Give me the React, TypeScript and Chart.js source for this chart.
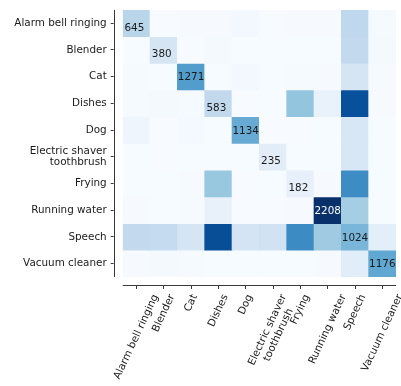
import React, { useEffect, useRef } from "react";
import { Chart, registerables } from "chart.js";

Chart.register(...registerables);

// Sound classes (true label rows, predicted label columns)
const rowLabels: (string | string[])[] = [
  "Alarm bell ringing",
  "Blender",
  "Cat",
  "Dishes",
  "Dog",
  ["Electric shaver", "toothbrush"],
  "Frying",
  "Running water",
  "Speech",
  "Vacuum cleaner",
];
const colLabels: (string | string[])[] = rowLabels;

// Confusion counts, one array per true class
const rowAlarm = [645, 2, 12, 12, 55, 5, 12, 16, 594, 18];
const rowBlender = [8, 380, 2, 35, 6, 2, 6, 8, 575, 30];
const rowCat = [20, 6, 1271, 8, 50, 6, 20, 12, 380, 10];
const rowDishes = [18, 38, 18, 583, 2, 6, 880, 150, 1940, 12];
const rowDog = [95, 2, 40, 8, 1134, 2, 4, 6, 350, 8];
const rowShaver = [6, 4, 8, 6, 8, 235, 6, 8, 340, 8];
const rowFrying = [8, 6, 12, 860, 2, 8, 182, 12, 1420, 8];
const rowWater = [10, 6, 10, 165, 2, 4, 12, 2208, 780, 8];
const rowSpeech = [580, 560, 380, 1960, 390, 420, 1430, 820, 1024, 230];
const rowVacuum = [10, 30, 12, 8, 6, 8, 8, 10, 240, 1176];

const matrix = [
  rowAlarm,
  rowBlender,
  rowCat,
  rowDishes,
  rowDog,
  rowShaver,
  rowFrying,
  rowWater,
  rowSpeech,
  rowVacuum,
];

const FONT = "DejaVu Sans";
const FONT_SIZE = 10.4;
const TEXT = "#1a1a1a";
const SPINE = "#3a3a3a";

// "Blues" colour ramp
const BLUES = [
  [247, 251, 255],
  [222, 235, 247],
  [198, 219, 239],
  [158, 202, 225],
  [107, 174, 214],
  [66, 146, 198],
  [33, 113, 181],
  [8, 81, 156],
  [8, 48, 107],
];
function blues(t: number): string {
  const c = Math.max(0, Math.min(1, t)) * (BLUES.length - 1);
  const i = Math.min(Math.floor(c), BLUES.length - 2);
  const f = c - i;
  const a = BLUES[i];
  const b = BLUES[i + 1];
  const m = (k: number) => Math.round(a[k] + (b[k] - a[k]) * f);
  return `rgb(${m(0)},${m(1)},${m(2)})`;
}

const vmax = Math.max(...matrix.map((r) => Math.max(...r)));

const cellText = {
  id: "cellText",
  afterDatasetsDraw(chart: any) {
    const { ctx } = chart;
    const xs = chart.scales.x;
    const ys = chart.scales.y;
    ctx.save();
    ctx.font = `${FONT_SIZE}px "${FONT}"`;
    ctx.textAlign = "center";
    ctx.textBaseline = "alphabetic";
    matrix.forEach((row, i) => {
      const v = row[i];
      const short = v < 1000;
      const x = xs.getPixelForValue(i) + (short ? -2 : 0);
      const y = ys.getPixelForValue(i + 0.5) + 3.8 + (short ? 3.5 : 0);
      ctx.fillStyle = v / vmax > 0.7 ? "#ffffff" : TEXT;
      ctx.fillText(String(v), x, y);
    });
    ctx.restore();
  },
};

const spinesAndXLabels = {
  id: "spinesAndXLabels",
  afterDraw(chart: any) {
    const { ctx, chartArea } = chart;
    const { left, right, top, bottom } = chartArea;
    ctx.save();
    ctx.strokeStyle = SPINE;
    ctx.lineWidth = 1;
    const sx = Math.round(left - 8.7) + 0.5;
    const sy = Math.round(bottom + 8) + 0.5;
    ctx.beginPath();
    ctx.moveTo(sx, top);
    ctx.lineTo(sx, bottom);
    ctx.moveTo(left, sy);
    ctx.lineTo(right, sy);
    ctx.stroke();

    // rotated column labels, bounding box centred under each tick
    const xs = chart.scales.x;
    const theta = (65 * Math.PI) / 180;
    const lineH = 12;
    const y0 = bottom + 15.5;
    ctx.font = `${FONT_SIZE}px "${FONT}"`;
    ctx.fillStyle = TEXT;
    ctx.textAlign = "center";
    ctx.textBaseline = "middle";
    colLabels.forEach((lab, j) => {
      const lines = Array.isArray(lab) ? lab : [lab];
      const w = Math.max(...lines.map((s) => ctx.measureText(s).width));
      const h = lines.length * lineH;
      const H = w * Math.sin(theta) + h * Math.cos(theta);
      const cx = xs.getPixelForValue(j);
      const cy = y0 + H / 2;
      ctx.save();
      ctx.translate(cx, cy);
      ctx.rotate(-theta);
      lines.forEach((s, k) => {
        ctx.fillText(s, 0, (k - (lines.length - 1) / 2) * lineH);
      });
      ctx.restore();
    });
    ctx.restore();
  },
};

export default function App() {
  const ref = useRef<HTMLCanvasElement | null>(null);

  useEffect(() => {
    if (!ref.current) return;
    const chart = new Chart(ref.current, {
      type: "bar",
      data: {
        labels: colLabels.map((l) => (Array.isArray(l) ? l.join(" ") : l)),
        datasets: matrix.map((row, i) => ({
          label: Array.isArray(rowLabels[i]) ? (rowLabels[i] as string[]).join(" ") : (rowLabels[i] as string),
          data: row.map(() => [i, i + 1] as [number, number]),
          backgroundColor: row.map((v) => blues(v / vmax)),
          borderWidth: 0,
          barPercentage: 1,
          categoryPercentage: 1,
          grouped: false,
        })),
      },
      options: {
        responsive: false,
        animation: false,
        devicePixelRatio: 1,
        events: [],
        layout: { padding: { left: 0, right: 5, top: 3, bottom: 0 } },
        plugins: { legend: { display: false }, tooltip: { enabled: false } },
        scales: {
          x: {
            afterFit: (axis: any) => {
              axis.height = 109;
            },
            ticks: { display: false, autoSkip: false },
            grid: {
              offset: false,
              drawOnChartArea: false,
              drawTicks: true,
              tickLength: 12,
              tickBorderDash: [0, 8, 4, 100],
              color: SPINE,
              tickColor: SPINE,
            },
            border: { display: false },
          },
          y: {
            min: 0,
            max: 10,
            reverse: true,
            afterBuildTicks: (axis: any) => {
              axis.ticks = rowLabels.map((_, i) => ({ value: i + 0.5 }));
            },
            afterFit: (axis: any) => {
              axis.width = 122.7;
            },
            ticks: {
              autoSkip: false,
              padding: 4,
              color: TEXT,
              font: { family: FONT, size: FONT_SIZE, lineHeight: 1.13 },
              callback: (_v: any, i: number) => rowLabels[i],
            },
            grid: {
              drawOnChartArea: false,
              drawTicks: true,
              tickLength: 12,
              tickBorderDash: [3, 100],
              color: SPINE,
              tickColor: SPINE,
            },
            border: { display: false },
          },
        },
      },
      plugins: [cellText, spinesAndXLabels],
    } as any);
    return () => chart.destroy();
  }, []);

  return (
    <div style={{ position: "absolute", left: 0, top: 0, width: 401, height: 386, background: "#fff" }}>
      <canvas ref={ref} width={401} height={386} style={{ display: "block" }} />
    </div>
  );
}
